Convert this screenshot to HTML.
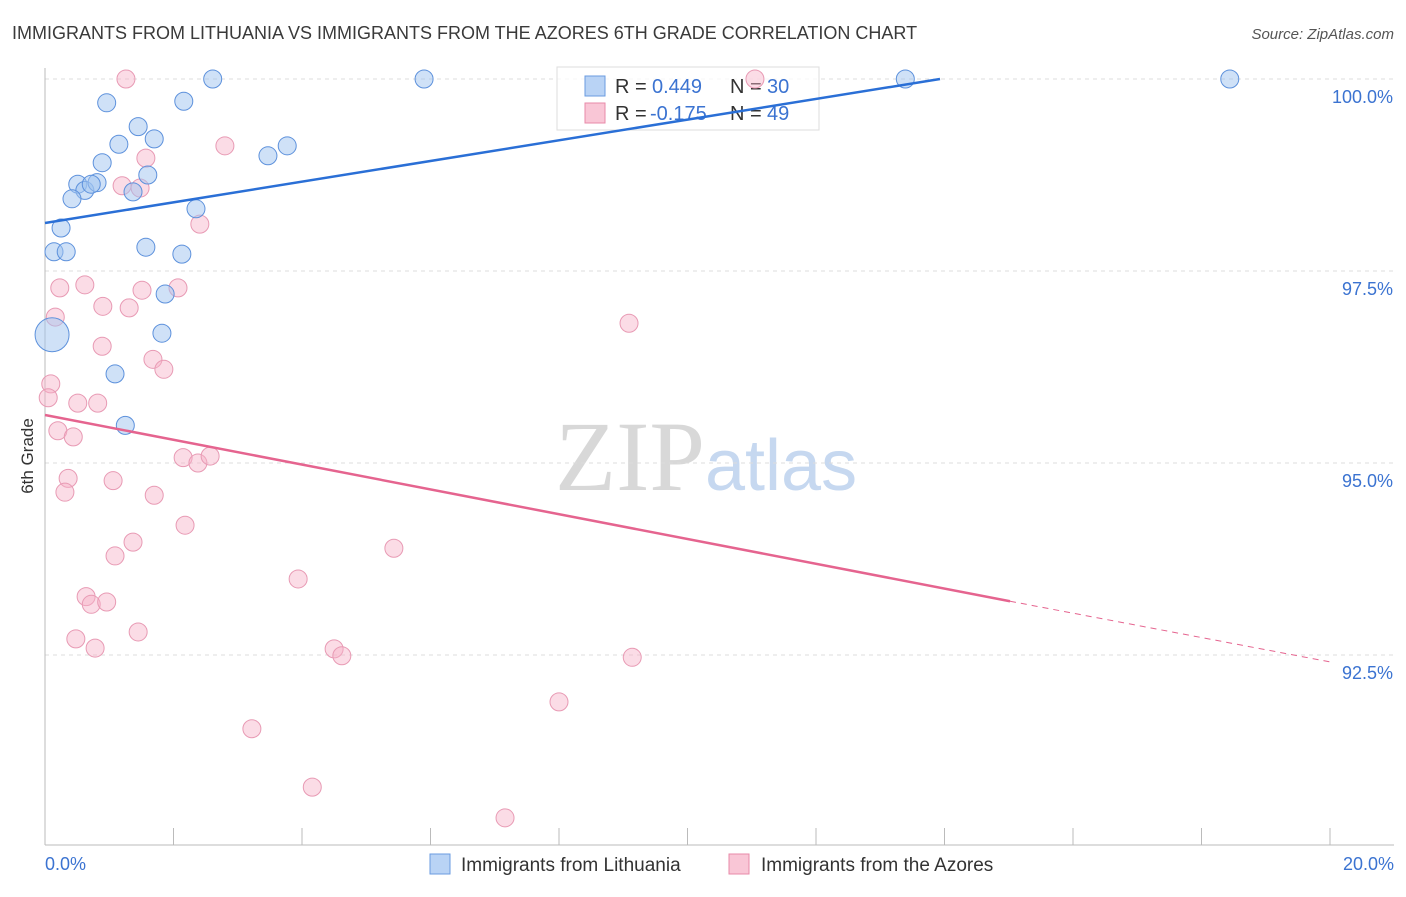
<!DOCTYPE html>
<html><head><meta charset="utf-8"><style>
body{margin:0;background:#fff;font-family:"Liberation Sans",sans-serif;}
</style></head><body>
<svg id="chart" width="1406" height="892" viewBox="0 0 1406 892" font-family="Liberation Sans, sans-serif">
<text x="12" y="39" font-size="18" fill="#3a3a3a">IMMIGRANTS FROM LITHUANIA VS IMMIGRANTS FROM THE AZORES 6TH GRADE CORRELATION CHART</text>
<text x="1394" y="39" font-size="15" fill="#555" font-style="italic" text-anchor="end">Source: ZipAtlas.com</text>
<text transform="translate(33,456) rotate(-90)" font-size="17" fill="#333" text-anchor="middle">6th Grade</text>
<text x="555" y="490" font-size="100" fill="#d8d8d8" style="font-family:'Liberation Serif',serif">ZIP<tspan fill="#c6d8f0" font-size="72" style="font-family:'Liberation Sans',sans-serif">atlas</tspan></text>
<g id="grid"></g><g id="axes"></g>
<g>
<rect x="557" y="67" width="262" height="63" fill="rgba(255,255,255,0.75)" stroke="#ddd"/>
<rect x="585" y="76" width="20" height="20" fill="#b9d3f5" stroke="#6a9be0"/>
<rect x="585" y="103" width="20" height="20" fill="#f9c6d6" stroke="#e88aa8"/>
<text x="615" y="93" font-size="20" fill="#333">R = <tspan x="652" fill="#3b73d1">0.449</tspan><tspan x="730">N = </tspan><tspan x="767" fill="#3b73d1">30</tspan></text>
<text x="615" y="120" font-size="20" fill="#333">R = <tspan x="650" fill="#3b73d1">-0.175</tspan><tspan x="730">N = </tspan><tspan x="767" fill="#3b73d1">49</tspan></text>
</g>
<g id="pts"></g><g id="trend"></g>
<g>
<rect x="430" y="854" width="20" height="20" fill="#b9d3f5" stroke="#6a9be0"/>
<text x="461" y="871" font-size="19" fill="#333">Immigrants from Lithuania</text>
<rect x="729" y="854" width="20" height="20" fill="#f9c6d6" stroke="#e88aa8"/>
<text x="761" y="871" font-size="19" fill="#333">Immigrants from the Azores</text>
</g>
</svg>
<script>
const blueX=[0.96,2.16,2.61,5.90,13.39,18.44,1.45,1.15,1.70,0.89,1.60,3.47,3.77,0.51,0.62,0.81,0.72,0.42,1.37,2.35,0.25,0.14,0.33,1.57,2.13,1.87,1.82,0.11,1.09,1.25];
const blueY=[99.69,99.71,100,100,100,100,99.38,99.15,99.22,98.91,98.75,99.00,99.13,98.63,98.55,98.65,98.63,98.44,98.53,98.31,98.06,97.75,97.75,97.81,97.72,97.20,96.69,96.67,96.16,95.49];
const pinkX=[1.26,11.05,2.80,1.57,1.20,1.48,2.41,0.23,0.62,1.51,2.07,0.90,1.31,0.16,9.09,0.89,1.68,1.85,0.09,0.05,0.51,0.82,0.20,0.44,2.15,2.38,2.57,0.36,1.06,0.31,1.70,2.18,1.37,1.09,3.94,5.43,0.64,0.72,0.96,0.48,0.78,1.45,4.50,4.62,9.14,8.00,3.22,4.16,7.16];
const pinkY=[100,100,99.13,98.97,98.61,98.58,98.11,97.28,97.32,97.25,97.28,97.04,97.02,96.90,96.82,96.52,96.35,96.22,96.03,95.85,95.78,95.78,95.42,95.34,95.07,95.00,95.09,94.80,94.77,94.62,94.58,94.19,93.97,93.79,93.49,93.89,93.26,93.16,93.19,92.71,92.59,92.80,92.58,92.49,92.47,91.89,91.54,90.78,90.38];
const yTicks=[100,97.5,95,92.5];
const yTickLabels=["100.0%","97.5%","95.0%","92.5%"];
const blueTrend=[[0,98.125],[13.93,100]];
const pinkTrend=[[0,95.625],[15.02,93.20]];
const pinkTrendExt=[[15.02,93.20],[20,92.41]];
const NS="http://www.w3.org/2000/svg";
const X=v=>45+v*64.25, Y=v=>79+(100-v)*76.8;
function mk(tag,attrs,parent){const e=document.createElementNS(NS,tag);for(const k in attrs)e.setAttribute(k,attrs[k]);document.getElementById(parent).appendChild(e);return e;}
yTicks.forEach((t,i)=>{
 const l=mk('line',{x1:45,x2:1394,y1:Y(t),y2:Y(t),stroke:'#ddd','stroke-dasharray':'4,4'},'grid');
 
 
 const tx=mk('text',{x:1393,y:Y(t)+24,'font-size':18,fill:'#3b73d1','text-anchor':'end'},'grid');
 tx.textContent=yTickLabels[i];
 
 
});
let a=mk('line',{x1:45,x2:45,y1:68,y2:845,stroke:'#bbb'},'axes');


a=mk('line',{x1:45,x2:1394,y1:845,y2:845,stroke:'#bbb'},'axes');


for(let v=0;v<=20;v+=2){const t=mk('line',{x1:X(v),x2:X(v),y1:828,y2:845,stroke:'#bbb'},'axes');
 
 }
let xl=mk('text',{x:45,y:870,'font-size':18,fill:'#3b73d1'},'axes');xl.textContent='0.0%';


xl=mk('text',{x:1394,y:870,'font-size':18,fill:'#3b73d1','text-anchor':'end'},'axes');xl.textContent='20.0%';


pinkX.forEach((x,i)=>{const c=mk('circle',{cx:X(x),cy:Y(pinkY[i]),r:9,fill:'rgba(246,178,200,0.45)',stroke:'#e89ab4','stroke-width':1},'pts');
 
 });
blueX.forEach((x,i)=>{const c=mk('circle',{cx:X(x),cy:Y(blueY[i]),r:i==27?17:9,fill:'rgba(160,195,240,0.5)',stroke:'#5d91dc','stroke-width':1},'pts');
 
 });
let tl=mk('line',{x1:X(blueTrend[0][0]),y1:Y(blueTrend[0][1]),x2:X(blueTrend[1][0]),y2:Y(blueTrend[1][1]),stroke:'#2a6fd6','stroke-width':2.5},'trend');


tl=mk('line',{x1:X(pinkTrend[0][0]),y1:Y(pinkTrend[0][1]),x2:X(pinkTrend[1][0]),y2:Y(pinkTrend[1][1]),stroke:'#e5648f','stroke-width':2.5},'trend');


tl=mk('line',{x1:X(pinkTrendExt[0][0]),y1:Y(pinkTrendExt[0][1]),x2:X(pinkTrendExt[1][0]),y2:Y(pinkTrendExt[1][1]),stroke:'#e5648f','stroke-width':1,'stroke-dasharray':'6,5'},'trend');


</script>
</body></html>
